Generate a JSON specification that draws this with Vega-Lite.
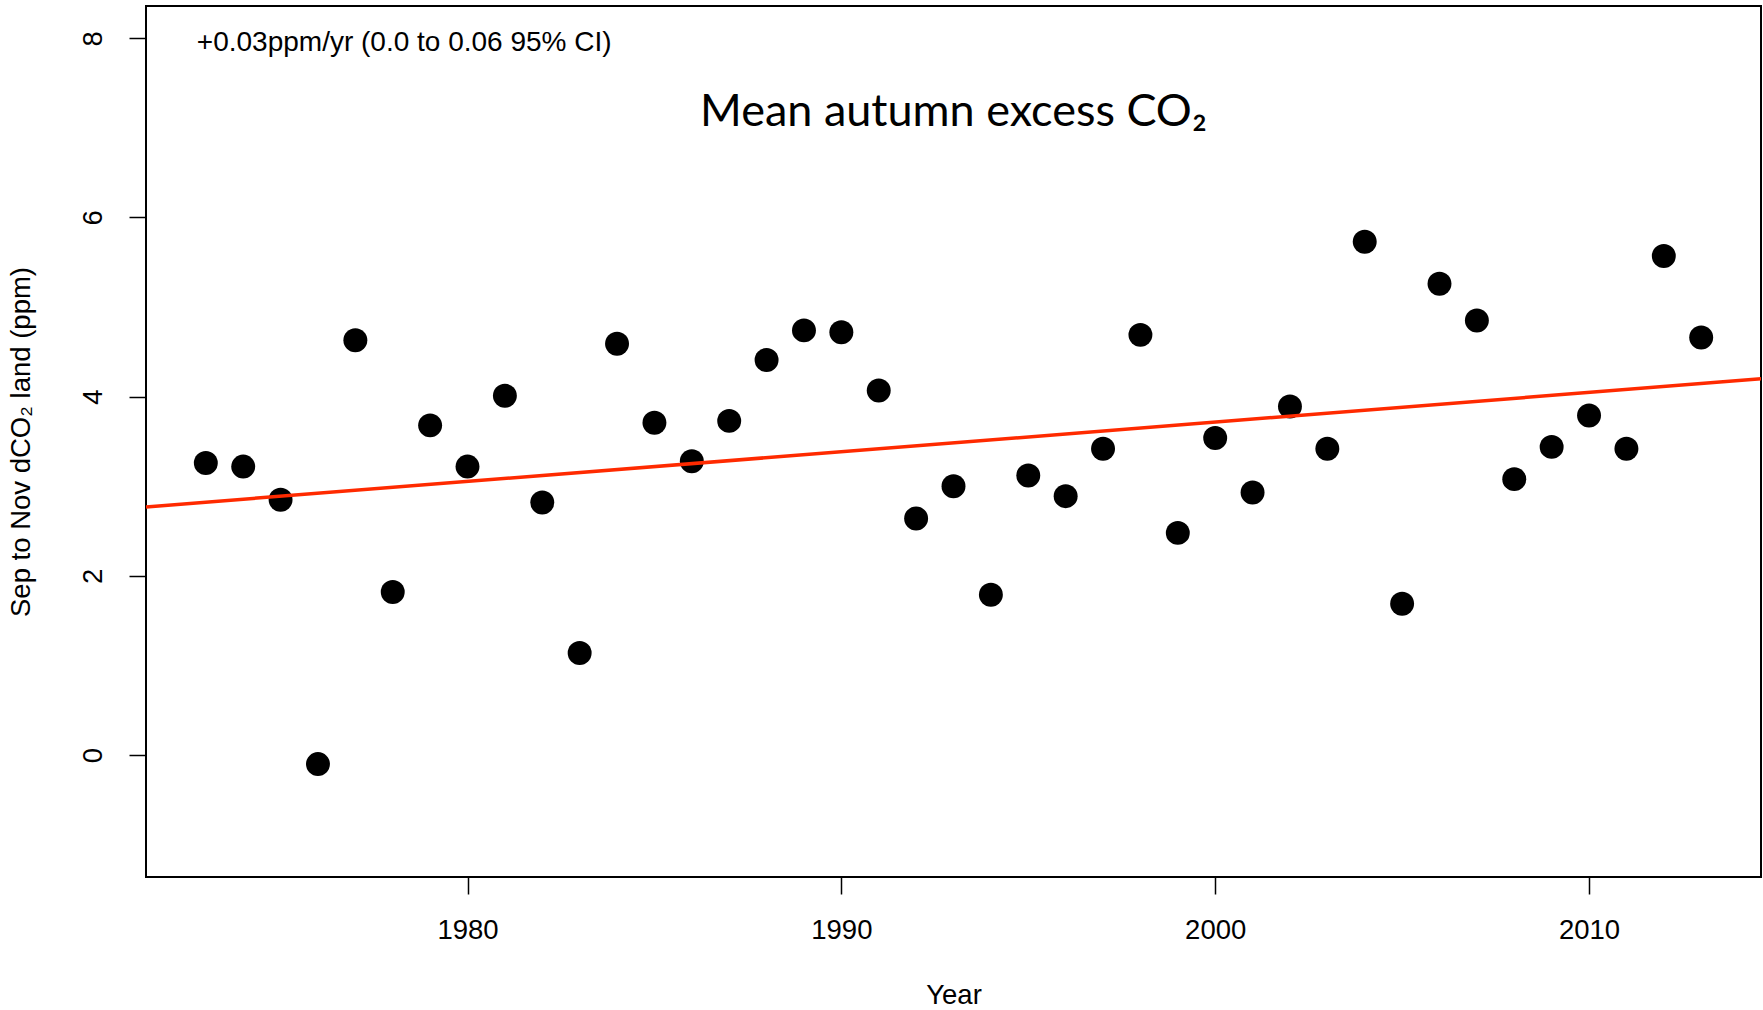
{
  "$schema": "https://vega.github.io/schema/vega-lite/v6.json",
  "width": 1615,
  "height": 871,
  "autosize": {"type": "none"},
  "padding": {"left": 146, "top": 6, "right": 2, "bottom": 133},
  "background": "white",
  "config": {
    "view": {"stroke": "black", "strokeWidth": 2},
    "axis": {"labelFont": "Liberation Sans", "titleFont": "Liberation Sans", "labelColor": "black", "titleColor": "black", "tickColor": "black", "domain": false, "grid": false, "labelFontSize": 27.5, "titleFontSize": 27.5, "titleFontWeight": "normal", "tickSize": 17, "tickWidth": 1.5}
  },
  "datasets": {
    "pts": [
      {"year": 1973, "v": 3.26}, {"year": 1974, "v": 3.22}, {"year": 1975, "v": 2.85}, {"year": 1976, "v": -0.10},
      {"year": 1977, "v": 4.63}, {"year": 1978, "v": 1.82}, {"year": 1979, "v": 3.68}, {"year": 1980, "v": 3.22},
      {"year": 1981, "v": 4.01}, {"year": 1982, "v": 2.82}, {"year": 1983, "v": 1.14}, {"year": 1984, "v": 4.59},
      {"year": 1985, "v": 3.71}, {"year": 1986, "v": 3.28}, {"year": 1987, "v": 3.73}, {"year": 1988, "v": 4.41},
      {"year": 1989, "v": 4.74}, {"year": 1990, "v": 4.72}, {"year": 1991, "v": 4.07}, {"year": 1992, "v": 2.64},
      {"year": 1993, "v": 3.00}, {"year": 1994, "v": 1.79}, {"year": 1995, "v": 3.12}, {"year": 1996, "v": 2.89},
      {"year": 1997, "v": 3.42}, {"year": 1998, "v": 4.69}, {"year": 1999, "v": 2.48}, {"year": 2000, "v": 3.54},
      {"year": 2001, "v": 2.93}, {"year": 2002, "v": 3.89}, {"year": 2003, "v": 3.42}, {"year": 2004, "v": 5.73},
      {"year": 2005, "v": 1.69}, {"year": 2006, "v": 5.26}, {"year": 2007, "v": 4.85}, {"year": 2008, "v": 3.08},
      {"year": 2009, "v": 3.44}, {"year": 2010, "v": 3.79}, {"year": 2011, "v": 3.42}, {"year": 2012, "v": 5.57},
      {"year": 2013, "v": 4.66}
    ],
    "trend": [{"year": 1971.4, "v": 2.77}, {"year": 2014.6, "v": 4.2}],
    "labels": [
      {"year": 1972.76, "v": 7.86, "txt": "+0.03ppm/yr (0.0 to 0.06 95% CI)", "kind": "note"},
      {"year": 1993.0, "v": 7.02, "txt": "Mean autumn excess CO₂", "kind": "title"}
    ]
  },
  "layer": [
    {
      "data": {"name": "pts"},
      "mark": {"type": "point", "filled": true, "color": "black", "opacity": 1, "size": 573},
      "encoding": {
        "x": {"field": "year", "type": "quantitative", "scale": {"domain": [1971.4, 2014.6], "nice": false, "zero": false},
          "axis": {"values": [1980, 1990, 2000, 2010], "format": "d", "title": "Year", "labelPadding": 22, "titlePadding": 38}},
        "y": {"field": "v", "type": "quantitative", "scale": {"domain": [-1.36, 8.36], "nice": false, "zero": false},
          "axis": {"values": [0, 2, 4, 6, 8], "format": "d", "title": "Sep to Nov dCO₂ land (ppm)", "labelAngle": -90, "labelAlign": "center", "labelBaseline": "bottom", "labelPadding": 22, "titlePadding": 44}}
      }
    },
    {
      "data": {"name": "trend"},
      "mark": {"type": "line", "color": "#ff2a00", "strokeWidth": 3.5, "clip": true},
      "encoding": {
        "x": {"field": "year", "type": "quantitative"},
        "y": {"field": "v", "type": "quantitative"}
      }
    },
    {
      "data": {"name": "labels"},
      "transform": [{"filter": "datum.kind === 'note'"}],
      "mark": {"type": "text", "align": "left", "baseline": "alphabetic", "font": "Liberation Sans", "fontSize": 28, "color": "black"},
      "encoding": {
        "x": {"field": "year", "type": "quantitative"},
        "y": {"field": "v", "type": "quantitative"},
        "text": {"field": "txt"}
      }
    },
    {
      "data": {"name": "labels"},
      "transform": [{"filter": "datum.kind === 'title'"}],
      "mark": {"type": "text", "align": "center", "baseline": "alphabetic", "font": "Lato", "fontSize": 45, "color": "black"},
      "encoding": {
        "x": {"field": "year", "type": "quantitative"},
        "y": {"field": "v", "type": "quantitative"},
        "text": {"field": "txt"}
      }
    }
  ]
}
